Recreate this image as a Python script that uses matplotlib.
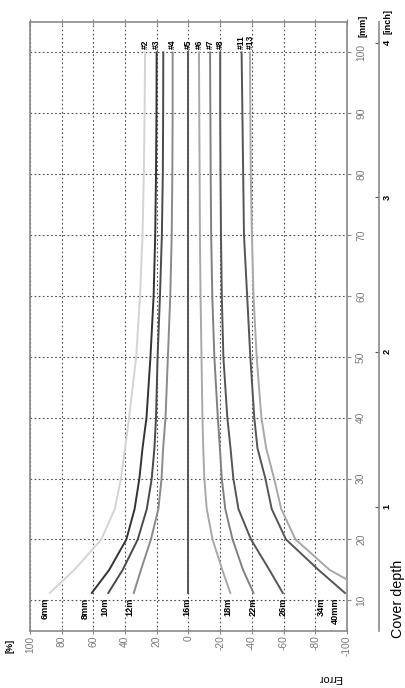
import matplotlib
matplotlib.use('Agg')
import matplotlib.pyplot as plt
from matplotlib import font_manager

# pick a narrow font if there is one
names = {f.name for f in font_manager.fontManager.ttflist}
if 'Liberation Sans Narrow' in names:
    FONT, k = 'Liberation Sans Narrow', 1.0
else:
    FONT, k = 'Liberation Sans', 0.82
plt.rcParams['font.family'] = [FONT, 'DejaVu Sans']
plt.rcParams['axes.unicode_minus'] = False

# Cover depth [mm] where each curve is read
cover = [11.2, 15, 20, 25, 30, 35, 40, 50, 60, 70, 80, 90, 100]

# Error [%] for each bar size
bars = ['6mm', '8mm', '10m', '12m', '16m', '18m', '22m', '26m', '34m', '40mm']
err = {
    '6mm':  [87.5, 72, 55, 46.5, 42.6, 40, 37.5, 33, 30.6, 29, 28.2, 27.7, 27.4],
    '8mm':  [61, 50, 39.2, 34, 31, 29, 26.5, 24, 22, 21, 20.5, 20.2, 20.1],
    '10m':  [50.6, 41.5, 32, 26.3, 23.2, 21.5, 20.5, 19.5, 18, 16.8, 16.2, 16, 15.9],
    '12m':  [34.5, 30, 23.7, 19, 17, 16, 14.5, 13, 11.5, 10.6, 10.2, 10, 10],
    '16m':  [0, 0, 0, 0, 0, 0, 0, 0, 0, 0, 0, 0, 0],
    '18m':  [-26.4, -21.3, -15.2, -11.5, -10, -9.3, -8.8, -8.2, -7.6, -7.2, -7, -6.8, -6.6],
    '22m':  [-41, -34.4, -27.8, -23.2, -21, -19.8, -18.5, -16.3, -15, -14.3, -14, -13.8, -13.6],
    '26m':  [-59.5, -51, -39.4, -31.5, -28.3, -26.5, -24.5, -22, -21, -20.5, -20.2, -20, -20],
    '34m':  [-115, -89, -67.5, -58.5, -54, -49, -46, -43, -41, -40, -39.3, -39, -38.8],
    '40mm': [-98.7, -82, -61.5, -52.5, -48.5, -43.5, -41.5, -39, -37, -35, -34.5, -34, -33.5],
}
colors = ['#d4d4d4', '#333333', '#4a4a4a', '#8a8a8a', '#555555',
          '#a8a8a8', '#808080', '#555555', '#a8a8a8', '#555555']
top_labels = ['#2', '#3', '', '#4', '#5', '#6', '#7', '#8', '#13', '#11']
bottom_label_x = [90.5, 65.3, 52.7, 37, 1, -25, -40.7, -59.6, -84, -92.4]

err_ticks = list(range(-100, 101, 20))
mm_ticks = list(range(10, 101, 10))
inch_ticks = [1, 2, 3, 4]

W, H = 406, 688
fig = plt.figure(figsize=(W / 100, H / 100), dpi=100)
ax = fig.add_axes([30 / W, (H - 630.7) / H, 317 / W, (630.7 - 22) / H])

for b, c in zip(bars, colors):
    ax.plot(err[b], cover, color=c, lw=1.4, zorder=3)

ax.set_xlim(100, -100)
ax.set_ylim(5, 105)
ax.set_xticks(err_ticks)
ax.set_yticks(mm_ticks)
ax.grid(True, color='#505050', lw=0.8, ls=(0, (1.5, 2.2)))

for s in ax.spines.values():
    s.set_color('#8a8a8a')
    s.set_linewidth(1.2)

ax.tick_params(axis='x', direction='inout', length=4, color='#8a8a8a',
               labelsize=9 * k, labelcolor='#7a7a7a', labelrotation=90, pad=1.5,
               top=True)
ax.tick_params(axis='y', direction='out', length=3, color='#8a8a8a',
               left=False, right=True, labelleft=False, labelright=True,
               labelsize=9 * k, labelcolor='#7a7a7a', labelrotation=90, pad=3.5)
for t in ax.get_yticklabels():
    t.set_va('center')

# inch scale
sec = ax.secondary_yaxis((379 - 30) / 317, functions=(lambda m: m / 25.4, lambda i: i * 25.4))
sec.set_yticks(inch_ticks)
sec.spines['right'].set_color('#8a8a8a')
sec.spines['right'].set_linewidth(1.2)
sec.tick_params(direction='in', length=3, color='#555555', labelsize=8 * k,
                labelrotation=90, pad=2.5)
for t in sec.get_yticklabels():
    t.set_fontweight('bold')
    t.set_va('center')

# curve labels
for b, x in zip(bars, bottom_label_x):
    ax.text(x, 10.4, b, rotation=90, ha='center', va='top', fontsize=8 * k,
            fontweight='bold', zorder=4)
for b, lbl in zip(bars, top_labels):
    if lbl:
        ax.text(err[b][-1], 100.6, lbl, rotation=90, ha='center', va='bottom',
                fontsize=7.5 * k, fontweight='bold', zorder=4)

# unit labels
fig.text(10 / W, 1 - 646 / H, '[%]', rotation=90, ha='center', va='center',
         fontsize=8 * k, fontweight='bold')
fig.text(363 / W, 1 - 26 / H, '[mm]', rotation=90, ha='center', va='center',
         fontsize=8 * k, fontweight='bold')
fig.text(388 / W, 1 - 22 / H, '[inch]', rotation=90, ha='center', va='center',
         fontsize=8 * k, fontweight='bold')

fig.text(398 / W, 1 - 599 / H, 'Cover depth', rotation=90, ha='center', va='center',
         fontsize=12.5 * k)
fig.text(330 / W, 1 - 678 / H, 'Error', rotation=180, ha='center', va='center',
         fontsize=9.5 * k)

fig.savefig('out.png', dpi=100)
